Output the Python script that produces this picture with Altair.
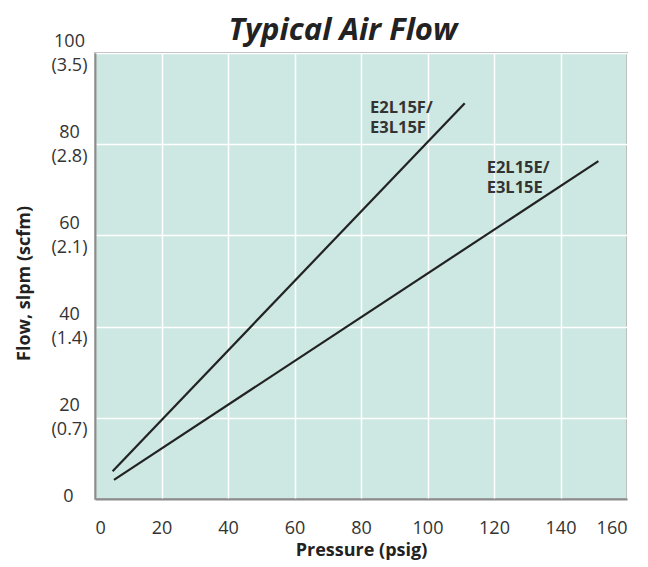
import altair as alt
import pandas as pd

# ---- data ----
series = ["E2L15F/E3L15F", "E2L15E/E3L15E"]
pressure_f = [5.3, 111.2]
flow_f = [8.3, 89.0]
pressure_e = [5.7, 151.4]
flow_e = [6.4, 76.3]

label_text = ["E2L15F/\nE3L15F", "E2L15E/\nE3L15E"]
label_x = [82.7, 117.8]
label_y = [88.0, 74.8]

x_ticks = [0, 20, 40, 60, 80, 100, 120, 140, 160]
y_ticks = [20, 40, 60, 80, 100]
y_scfm = ["(0.7)", "(1.4)", "(2.1)", "(2.8)", "(3.5)"]
zero_label = ["0"]

FONT = "Open Sans"

lines_df = pd.DataFrame({
    "pressure": pressure_f + pressure_e,
    "flow": flow_f + flow_e,
    "series": [series[0]] * len(pressure_f) + [series[1]] * len(pressure_e),
})
labels_df = pd.DataFrame({"x": label_x, "y": label_y, "t": label_text})
zero_df = pd.DataFrame({"v": [0], "t": zero_label})

# multi-line y labels: "20" over "(0.7)" etc.
expr = "datum.label"
for v, s in reversed(list(zip(y_ticks, y_scfm))):
    expr = f"datum.value == {v} ? ['{v}', '{s}'] : " + expr

x_scale = alt.Scale(domain=[0, 160], nice=False, zero=False)
y_scale = alt.Scale(domain=[2.2, 100], nice=False, zero=False)

x_axis = alt.Axis(
    values=x_ticks, title="Pressure (psig)", ticks=False, tickSize=0,
    labelPadding=20, labelFont=FONT, labelFontSize=18, labelColor="#333",
    domainColor="#8c8c8c", domainWidth=2,
    grid=True, gridColor="white", gridWidth=1.5,
    titleFont=FONT, titleFontSize=18, titleFontWeight="bold", titleColor="#222",
    titleY=51, titleBaseline="middle",
)
y_axis = alt.Axis(
    values=y_ticks, title="Flow, slpm (scfm)", ticks=False, tickSize=0,
    labelExpr=expr, labelAlign="center", labelBaseline="middle",
    labelLineHeight=24, labelPadding=26, labelOffset=-12,
    labelFont=FONT, labelFontSize=18, labelColor="#333",
    domainColor="#8c8c8c", domainWidth=2,
    grid=True, gridColor="white", gridWidth=1.5,
    titleFont=FONT, titleFontSize=18, titleFontWeight="bold", titleColor="#222",
    titleX=-71, titleY=230, titleAngle=-90, titleAlign="center", titleBaseline="middle",
)

lines = alt.Chart(lines_df).mark_line(color="#222", strokeWidth=2.2).encode(
    x=alt.X("pressure:Q", scale=x_scale, axis=x_axis),
    y=alt.Y("flow:Q", scale=y_scale, axis=y_axis),
    detail="series:N",
)

labels = alt.Chart(labels_df).mark_text(
    align="left", baseline="middle", lineBreak="\n", lineHeight=20,
    font=FONT, fontSize=16.5, fontWeight="bold", color="#333",
).encode(
    x=alt.X("x:Q", scale=x_scale),
    y=alt.Y("y:Q", scale=y_scale),
    text="t:N",
)

zero = alt.Chart(zero_df).mark_text(
    align="center", baseline="middle", dy=-12,
    font=FONT, fontSize=18, color="#333",
).encode(
    x=alt.value(-26.5),
    y=alt.Y("v:Q", scale=y_scale),
    text="t:N",
)

chart = alt.layer(lines, labels, zero).properties(
    width=532,
    height=446,
    autosize=alt.AutoSizeParams(type="none"),
    padding={"left": 87, "top": 45, "right": 10, "bottom": 64},
    title=alt.TitleParams(
        "Typical Air Flow", font=FONT, fontSize=31, fontStyle="italic",
        fontWeight="bold", color="#222", anchor="middle", dx=-18,
        offset=7, dy=22,
    ),
).configure_view(
    fill="#cde8e2", stroke="#999999", strokeWidth=1.5,
)

chart.save("out.html", embed_options={"renderer": "svg", "actions": False})
